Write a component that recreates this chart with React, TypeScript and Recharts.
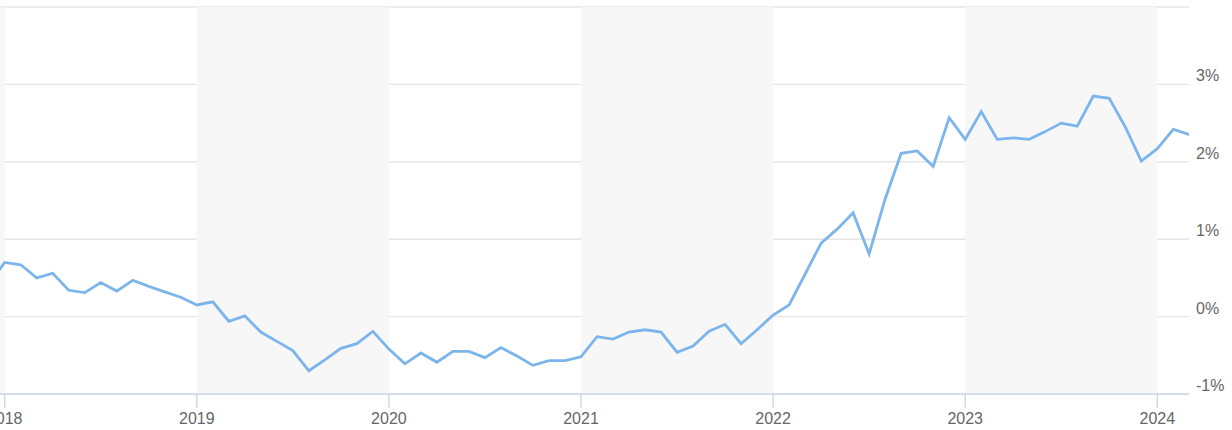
import { LineChart, Line, XAxis, YAxis, CartesianGrid, ReferenceArea } from "recharts"

// monthly readings, Dec 2017 .. Mar 2024
const months = [
  "2017-12",
  "2018-01", "2018-02", "2018-03", "2018-04", "2018-05", "2018-06",
  "2018-07", "2018-08", "2018-09", "2018-10", "2018-11", "2018-12",
  "2019-01", "2019-02", "2019-03", "2019-04", "2019-05", "2019-06",
  "2019-07", "2019-08", "2019-09", "2019-10", "2019-11", "2019-12",
  "2020-01", "2020-02", "2020-03", "2020-04", "2020-05", "2020-06",
  "2020-07", "2020-08", "2020-09", "2020-10", "2020-11", "2020-12",
  "2021-01", "2021-02", "2021-03", "2021-04", "2021-05", "2021-06",
  "2021-07", "2021-08", "2021-09", "2021-10", "2021-11", "2021-12",
  "2022-01", "2022-02", "2022-03", "2022-04", "2022-05", "2022-06",
  "2022-07", "2022-08", "2022-09", "2022-10", "2022-11", "2022-12",
  "2023-01", "2023-02", "2023-03", "2023-04", "2023-05", "2023-06",
  "2023-07", "2023-08", "2023-09", "2023-10", "2023-11", "2023-12",
  "2024-01", "2024-02", "2024-03",
]

const values = [
  0.42,
  0.7, 0.67, 0.5, 0.56, 0.34, 0.31,
  0.44, 0.33, 0.47, 0.39, 0.32, 0.25,
  0.15, 0.19, -0.06, 0.01, -0.2, -0.32,
  -0.44, -0.7, -0.56, -0.41, -0.35, -0.19,
  -0.42, -0.61, -0.47, -0.59, -0.45, -0.45,
  -0.53, -0.4, -0.51, -0.63, -0.57, -0.57,
  -0.52, -0.26, -0.29, -0.2, -0.17, -0.2,
  -0.46, -0.38, -0.19, -0.1, -0.35, -0.17,
  0.02, 0.15, 0.55, 0.95, 1.13, 1.34,
  0.81, 1.52, 2.11, 2.14, 1.94, 2.57,
  2.29, 2.65, 2.29, 2.31, 2.29, 2.39,
  2.5, 2.46, 2.85, 2.82, 2.45, 2.01,
  2.17, 2.42, 2.35,
]

const yearTicks = [2018, 2019, 2020, 2021, 2022, 2023, 2024]
const pctTicks = [-1, 0, 1, 2, 3, 4]
const shadedYears = [2017, 2019, 2021, 2023]

const data = months.map((m, i) => {
  const [y, mo] = m.split("-").map(Number)
  return { t: y + (mo - 1) / 12, v: values[i] }
})

const XTick = (props: any) => {
  const { x, y, payload } = props
  return (
    <text x={x} y={y + 16} textAnchor="middle" fill="#666666" fontSize={16} fontFamily="Liberation Sans, Arial, sans-serif">
      {payload.value}
    </text>
  )
}

const YTick = (props: any) => {
  const { x, y, payload } = props
  if (payload.value === 4) return null
  return (
    <text x={x} y={y - 3} textAnchor="start" fill="#666666" fontSize={16} fontFamily="Liberation Sans, Arial, sans-serif">
      {payload.value}%
    </text>
  )
}

export default function App() {
  return (
    <div style={{ position: "absolute", left: 0, top: 0, background: "#ffffff" }}>
      <LineChart width={1232} height={430} data={data} margin={{ top: 7, right: 0, bottom: 0, left: 0 }}>
        {shadedYears.map((yr) => (
          <ReferenceArea key={yr} x1={yr} x2={yr + 1} fill="#f7f7f7" fillOpacity={1} strokeOpacity={0} ifOverflow="hidden" />
        ))}
        <CartesianGrid vertical={false} stroke="#e6e6e6" strokeWidth={1.4} />
        <XAxis
          dataKey="t"
          type="number"
          domain={[2017.9755, 2024.165]}
          allowDataOverflow
          ticks={yearTicks}
          interval={0}
          tick={<XTick />}
          tickSize={14}
          tickMargin={0}
          tickLine={{ stroke: "#ccd6eb", strokeWidth: 1.4 }}
          axisLine={{ stroke: "#ccd6eb", strokeWidth: 1.4 }}
          height={36}
        />
        <YAxis
          orientation="right"
          type="number"
          domain={[-1, 4]}
          ticks={pctTicks}
          interval={0}
          tick={<YTick />}
          tickLine={false}
          axisLine={false}
          tickSize={0}
          tickMargin={7}
          width={43}
        />
        <Line
          type="linear"
          dataKey="v"
          stroke="#7cb5ec"
          strokeWidth={2.8}
          dot={false}
          isAnimationActive={false}
        />
      </LineChart>
    </div>
  )
}
